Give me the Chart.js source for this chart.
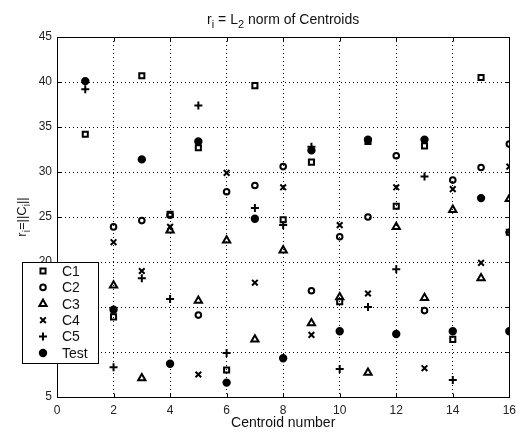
<!DOCTYPE html>
<html>
<head>
<meta charset="utf-8">
<script src="https://cdn.jsdelivr.net/npm/chart.js@4.4.0/dist/chart.umd.min.js"></script>
<style>
  body { margin: 0; background: #fff; }
</style>
</head>
<body>
<canvas id="myChart" width="522" height="432"></canvas>
<script>
// centroid numbers on the x axis
const centroids = [1, 2, 3, 4, 5, 6, 7, 8, 9, 10, 11, 12, 13, 14, 15, 16];

// r_i values (null = not visible)
const c1 = [34.2, 13.9, 40.7, 25.3, 32.7, 8.0, 39.6, 24.7, 31.1, 15.6, 33.4, 26.2, 32.9, 11.4, 40.5, 23.3];
const c2 = [null, 23.9, 24.6, 25.2, 14.1, 27.8, 28.5, 30.6, 16.8, 22.8, 25.0, 31.8, 14.6, 29.1, 30.5, 33.1];
const c3 = [null, 17.4, 7.1, 23.5, 15.7, 22.4, 11.4, 21.3, 13.2, 16.1, 7.7, 23.9, 16.0, 25.8, 18.2, 27.0];
const c4 = [null, 22.2, 19.0, 23.9, 7.5, 29.9, 17.7, 28.3, 11.9, 24.1, 16.5, 28.3, 8.2, 28.1, 19.9, 30.6];
const c5 = [39.2, 8.3, 18.2, 15.9, 37.4, 9.9, 26.0, 24.1, 32.8, 8.1, 15.0, 19.2, 29.5, 6.9, null, 23.3];
const test = [40.1, 14.7, 31.4, 8.7, 33.4, 6.6, 24.8, 9.3, 32.4, 12.3, 33.6, 12.0, 33.6, 12.3, 27.1, 12.3];

const xTicks = [0, 2, 4, 6, 8, 10, 12, 14, 16];
const yTicks = [5, 10, 15, 20, 25, 30, 35, 40, 45];

const FONT = "'Liberation Sans', Arial, sans-serif";

function pts(values) {
    return centroids.map((c, i) => ({ x: c, y: values[i] }));
}

function series(label, values, style, radius, filled) {
    return {
        label: label,
        data: pts(values),
        pointStyle: style,
        pointRadius: radius,
        pointHoverRadius: radius,
        borderColor: '#000',
        backgroundColor: filled ? '#000' : 'rgba(0,0,0,0)',
        pointBorderWidth: 2,
        showLine: false
    };
}

const datasets = [
    series('C1', c1, 'rect', 3.6, false),
    series('C2', c2, 'circle', 2.8, false),
    series('C3', c3, 'triangle', 4.2, false),
    series('C4', c4, 'crossRot', 4, false),
    series('C5', c5, 'cross', 4, false),
    series('Test', test, 'circle', 3.2, true)
];

// draws text made of pieces, some of them subscripts (y = baseline)
function drawSubText(ctx, parts, x, y, size) {
    const sub = Math.round(size * 0.8);
    let w = 0;
    parts.forEach(p => {
        ctx.font = (p[1] ? sub : size) + 'px ' + FONT;
        w += ctx.measureText(p[0]).width;
    });
    let cx = x - w / 2;
    ctx.textAlign = 'left';
    ctx.textBaseline = 'alphabetic';
    parts.forEach(p => {
        ctx.font = (p[1] ? sub : size) + 'px ' + FONT;
        ctx.fillText(p[0], cx, p[1] ? y + size * 0.3 : y);
        cx += ctx.measureText(p[0]).width;
    });
}

const decorations = {
    id: 'decorations',
    afterDraw(chart) {
        const ctx = chart.ctx;
        const a = chart.chartArea;
        const xs = chart.scales.x, ys = chart.scales.y;
        ctx.save();

        // axes box
        const L = Math.round(a.left) + 0.5, T = Math.round(a.top) + 0.5;
        const R = Math.round(a.right) + 0.5, B = Math.round(a.bottom) + 0.5;
        ctx.strokeStyle = '#000';
        ctx.lineWidth = 1;
        ctx.setLineDash([]);
        ctx.strokeRect(L, T, R - L, B - T);

        // inward tick marks on all four sides
        ctx.beginPath();
        xTicks.forEach(v => {
            const px = Math.round(xs.getPixelForValue(v)) + 0.5;
            ctx.moveTo(px, B); ctx.lineTo(px, B - 4);
            ctx.moveTo(px, T); ctx.lineTo(px, T + 4);
        });
        yTicks.forEach(v => {
            const py = Math.round(ys.getPixelForValue(v)) + 0.5;
            ctx.moveTo(L, py); ctx.lineTo(L + 4, py);
            ctx.moveTo(R, py); ctx.lineTo(R - 4, py);
        });
        ctx.stroke();

        ctx.fillStyle = '#111';
        // title
        drawSubText(ctx, [['r', false], ['i', true], [' = L', false], ['2', true], [' norm of Centroids', false]],
            (a.left + a.right) / 2, 24, 14);

        // y axis title
        ctx.save();
        ctx.translate(26, (a.top + a.bottom) / 2);
        ctx.rotate(-Math.PI / 2);
        drawSubText(ctx, [['r', false], ['i', true], ['=||C', false], ['i', true], ['||', false]], 0, 0, 13);
        ctx.restore();

        // legend box inside the axes
        const lx = 22, ly = 262, lw = 76, lh = 101;
        ctx.fillStyle = '#fff';
        ctx.fillRect(lx, ly, lw, lh);
        ctx.strokeStyle = '#000';
        ctx.lineWidth = 1;
        ctx.strokeRect(lx + 0.5, ly + 0.5, lw, lh);
        chart.data.datasets.forEach((ds, i) => {
            const y = 271 + i * 16.4;
            ctx.fillStyle = ds.backgroundColor;
            ctx.strokeStyle = '#000';
            ctx.lineWidth = 2;
            Chart.helpers.drawPoint(ctx, {
                pointStyle: ds.pointStyle,
                radius: ds.pointRadius,
                rotation: 0,
                borderWidth: 2
            }, 43, y);
            ctx.fillStyle = '#111';
            ctx.font = '14px ' + FONT;
            ctx.textAlign = 'left';
            ctx.textBaseline = 'middle';
            ctx.fillText(ds.label, 62, y + 1);
        });
        ctx.restore();
    }
};

const ctx = document.getElementById('myChart');

new Chart(ctx, {
    type: 'scatter',
    data: { datasets: datasets },
    options: {
        responsive: false,
        animation: false,
        events: [],
        layout: { padding: { left: 0, right: 7, top: 37, bottom: 0 } },
        plugins: {
            legend: { display: false },
            tooltip: { enabled: false },
            title: { display: false }
        },
        scales: {
            x: {
                type: 'linear',
                min: 0,
                max: 16,
                afterBuildTicks: axis => { axis.ticks = xTicks.map(v => ({ value: v })); },
                afterFit: axis => { axis.height = 35; },
                ticks: {
                    color: '#222',
                    font: { family: FONT, size: 12 },
                    padding: 6
                },
                grid: {
                    color: '#000',
                    lineWidth: 1,
                    drawTicks: false
                },
                border: { display: false, dash: [1, 3] },
                title: {
                    display: true,
                    text: 'Centroid number',
                    color: '#111',
                    font: { family: FONT, size: 14 },
                    padding: { top: 0, bottom: 0 }
                }
            },
            y: {
                type: 'linear',
                min: 5,
                max: 45,
                afterBuildTicks: axis => { axis.ticks = yTicks.map(v => ({ value: v })); },
                afterFit: axis => { axis.width = 57; },
                ticks: {
                    color: '#222',
                    font: { family: FONT, size: 12 },
                    padding: 5
                },
                grid: {
                    color: '#000',
                    lineWidth: 1,
                    drawTicks: false
                },
                border: { display: false, dash: [1, 3] }
            }
        }
    },
    plugins: [decorations]
});
</script>
</body>
</html>
